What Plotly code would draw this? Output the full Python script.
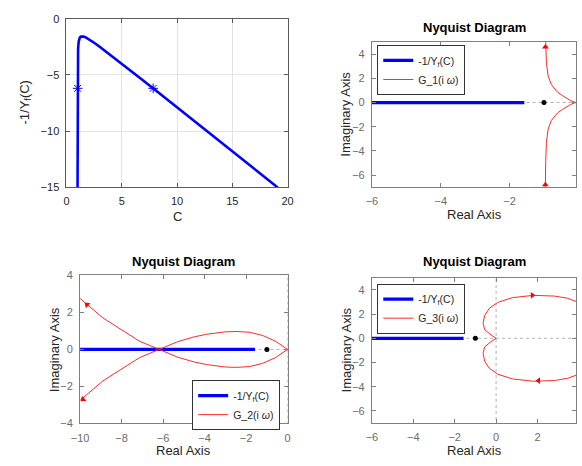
import plotly.graph_objects as go

# ---------------- data ----------------
# top-left: describing-function curve -1/Y_f(C)
C_vals = [1.0014, 1.0025, 1.005, 1.01, 1.02, 1.05, 1.1, 1.2, 1.3, 1.414, 1.55, 1.7,
          2.0, 2.5, 3.0, 4.0, 5.0, 6.5, 8.0, 10.0, 12.0, 15.0, 17.0, 19.1]
negYf = [-15.0, -11.16, -7.92, -5.65, -4.07, -2.71, -2.07, -1.70, -1.598, -1.571, -1.593, -1.651,
         -1.814, -2.142, -2.499, -3.245, -4.008, -5.167, -6.333, -7.894, -9.458, -11.807, -13.375, -15.02]
C_star = [1.008, 7.84]
Y_star = [-6.2, -6.2]

# G_1(i w), positive-frequency branch (the other branch is its conjugate)
G1_re = [-0.97, -0.96, -0.95, -0.93, -0.88, -0.79, -0.68, -0.60, -0.47, -0.36, -0.22, -0.10, 0.0]
G1_im = [-7.2, -6.8, -4.9, -3.3, -2.2, -1.5, -1.1, -0.84, -0.58, -0.36, -0.15, -0.02, 0.0]
G1_arrow_re = [-0.96, -0.96]
G1_arrow_im = [4.6, -6.8]

# G_2(i w)
G2_re = [-10.0, -8.9, -7.15, -6.2, -5.3, -4.5, -3.9, -3.0, -2.5, -1.85, -1.2, -0.6, -0.2, 0.0]
G2_im = [2.75, 1.7, 0.45, 0.0, -0.42, -0.68, -0.82, -0.95, -0.97, -0.93, -0.75, -0.45, -0.15, 0.0]
G2_arrow_re = [-9.67, -9.86]
G2_arrow_im = [2.42, -2.7]

# G_3(i w)
G3_re = [0.0, -0.24, -0.55, -0.63, -0.55, -0.32, 0.08, 0.79, 1.80, 2.82, 3.45, 3.86, 4.3, 4.6, 4.75]
G3_im = [0.0, 0.27, 0.71, 1.25, 1.9, 2.49, 2.97, 3.36, 3.55, 3.49, 3.31, 3.05, 2.5, 1.5, 0.0]
G3_arrow_re = [1.75, 2.05]
G3_arrow_im = [3.55, -3.5]

crit_re = [-1.0]
crit_im = [0.0]

W, H = 582, 466
FONT = "Liberation Sans, Arial, Helvetica, sans-serif"
BLUE = "#0000ff"
RED = "#ff2a2a"


def px_x(p):
    return p / W


def px_y(p):
    return 1 - p / H


fig = go.Figure()

# ---------- top-left ----------
fig.add_trace(go.Scatter(x=C_vals, y=negYf, mode="lines", line=dict(color=BLUE, width=2.6),
                         showlegend=False, xaxis="x", yaxis="y"))
fig.add_trace(go.Scatter(x=C_star, y=Y_star, mode="markers",
                         marker=dict(symbol="asterisk-open", size=8, color=BLUE,
                                     line=dict(color=BLUE, width=1)),
                         showlegend=False, xaxis="x", yaxis="y"))

# ---------- Nyquist panels ----------
panels = [("x2", "y2", "legend", G1_re, G1_im, G1_arrow_re, G1_arrow_im, "G_1(i <i>ω</i>)",
           [0, 0]),
          ("x3", "y3", "legend2", G2_re, G2_im, G2_arrow_re, G2_arrow_im, "G_2(i <i>ω</i>)",
           [-50, 230]),
          ("x4", "y4", "legend3", G3_re, G3_im, G3_arrow_re, G3_arrow_im, "G_3(i <i>ω</i>)",
           [90, 270])]

for xa, ya, lg, gre, gim, are, aim, gname, angs in panels:
    # dotted zero lines
    fig.add_trace(go.Scatter(x=[-100, 100], y=[0, 0], mode="lines",
                             line=dict(color="#b0b0b0", width=1, dash="dot"),
                             showlegend=False, hoverinfo="skip", xaxis=xa, yaxis=ya))
    fig.add_trace(go.Scatter(x=[0, 0], y=[-100, 100], mode="lines",
                             line=dict(color="#b0b0b0", width=1, dash="dot"),
                             showlegend=False, hoverinfo="skip", xaxis=xa, yaxis=ya))
    # -1/Y_f on the real axis
    fig.add_trace(go.Scatter(x=negYf, y=[0] * len(negYf), mode="lines",
                             line=dict(color=BLUE, width=3.2), name="-1/Y<sub>f</sub>(C)",
                             legend=lg, xaxis=xa, yaxis=ya))
    # G(i w): positive branch + conjugate branch
    full_re = list(gre) + [None] + list(gre)
    full_im = list(gim) + [None] + [-v for v in gim]
    fig.add_trace(go.Scatter(x=full_re, y=full_im, mode="lines",
                             line=dict(color=RED, width=1), name=gname,
                             legend=lg, xaxis=xa, yaxis=ya))
    fig.add_trace(go.Scatter(x=are, y=aim, mode="markers",
                             marker=dict(symbol="triangle-up", size=6, color="red", angle=angs,
                                         line=dict(width=0)),
                             showlegend=False, xaxis=xa, yaxis=ya))
    fig.add_trace(go.Scatter(x=crit_re, y=crit_im, mode="markers",
                             marker=dict(symbol="circle", size=5, color="black"),
                             showlegend=False, xaxis=xa, yaxis=ya))


def axis_common(dark):
    col = "#262626" if dark else "#6b6b6b"
    return dict(showline=True, mirror="ticks", linecolor="#7f7f7f" if not dark else "#5a5a5a",
                linewidth=1, ticks="inside", ticklen=4, tickcolor="#7f7f7f" if not dark else "#5a5a5a",
                tickfont=dict(family=FONT, size=11, color=col), zeroline=False,
                ticklabelstandoff=4,
                showgrid=dark, gridcolor="#e3e3e3", gridwidth=1, fixedrange=True)


layout = dict(width=W, height=H, margin=dict(l=0, r=0, t=0, b=0),
              paper_bgcolor="white", plot_bgcolor="white",
              font=dict(family=FONT, color="#262626"))

layout["xaxis"] = dict(domain=[px_x(59), px_x(286)], range=[0, 20], dtick=5, anchor="y",
                       **axis_common(True))
layout["yaxis"] = dict(domain=[px_y(186), px_y(13)], range=[-15, 0], dtick=5, anchor="x",
                       **axis_common(True))

layout["xaxis2"] = dict(domain=[px_x(372.5), 1.0], range=[-6, -0.07], tickvals=[-6, -4, -2], anchor="y2",
                        **axis_common(False))
layout["yaxis2"] = dict(domain=[px_y(186), px_y(37)], range=[-7, 5], tickvals=[-6, -4, -2, 0, 2, 4],
                        anchor="x2", **axis_common(False))

layout["xaxis3"] = dict(domain=[px_x(73), px_x(286)], range=[-10, 0], dtick=2, anchor="y3",
                        **axis_common(False))
layout["yaxis3"] = dict(domain=[px_y(428.5), px_y(276.5)], range=[-4, 4], dtick=2, anchor="x3",
                        **axis_common(False))

layout["xaxis4"] = dict(domain=[px_x(372.5), 1.0], range=[-6, 3.86], tickvals=[-6, -4, -2, 0, 2],
                        anchor="y4", **axis_common(False))
layout["yaxis4"] = dict(domain=[px_y(428), px_y(279)], range=[-7, 5], tickvals=[-6, -4, -2, 0, 2, 4],
                        anchor="x4", **axis_common(False))

leg_common = dict(bgcolor="white", bordercolor="#333333", borderwidth=1,
                  font=dict(family=FONT, size=10.5, color="#262626"),
                  xanchor="left", yanchor="top", tracegroupgap=0, itemwidth=30)
layout["legend"] = dict(x=px_x(378), y=px_y(40), **leg_common)
layout["legend2"] = dict(x=px_x(188), y=px_y(384), **leg_common)
layout["legend3"] = dict(x=px_x(378), y=px_y(285), **leg_common)

ann = []


def add_text(x, y, text, size=13, angle=0, bold=False, color="#262626"):
    ann.append(dict(x=px_x(x), y=px_y(y), xref="paper", yref="paper", showarrow=False,
                    text=f"<b>{text}</b>" if bold else text, textangle=angle,
                    xanchor="center", yanchor="middle",
                    font=dict(family=FONT, size=size, color=color)))


add_text(172.5, 216, "C")
add_text(17, 99.5, "-1/Y<sub>f</sub>(C)", angle=-90)
add_text(478, 22, "Nyquist Diagram", bold=True, color="black")
add_text(477.7, 214, "Real Axis")
add_text(346, 111.5, "Imaginary Axis", angle=-90)
add_text(179.5, 262, "Nyquist Diagram", bold=True, color="black")
add_text(179.5, 456.5, "Real Axis")
add_text(47, 352.5, "Imaginary Axis", angle=-90)
add_text(478, 262, "Nyquist Diagram", bold=True, color="black")
add_text(477.7, 456.5, "Real Axis")
add_text(346, 353.5, "Imaginary Axis", angle=-90)
layout["annotations"] = ann

fig.update_layout(**layout)
fig.write_html("out.html", config={"displayModeBar": False},
               post_script="document.body.style.margin='0';document.body.style.overflow='hidden';")
